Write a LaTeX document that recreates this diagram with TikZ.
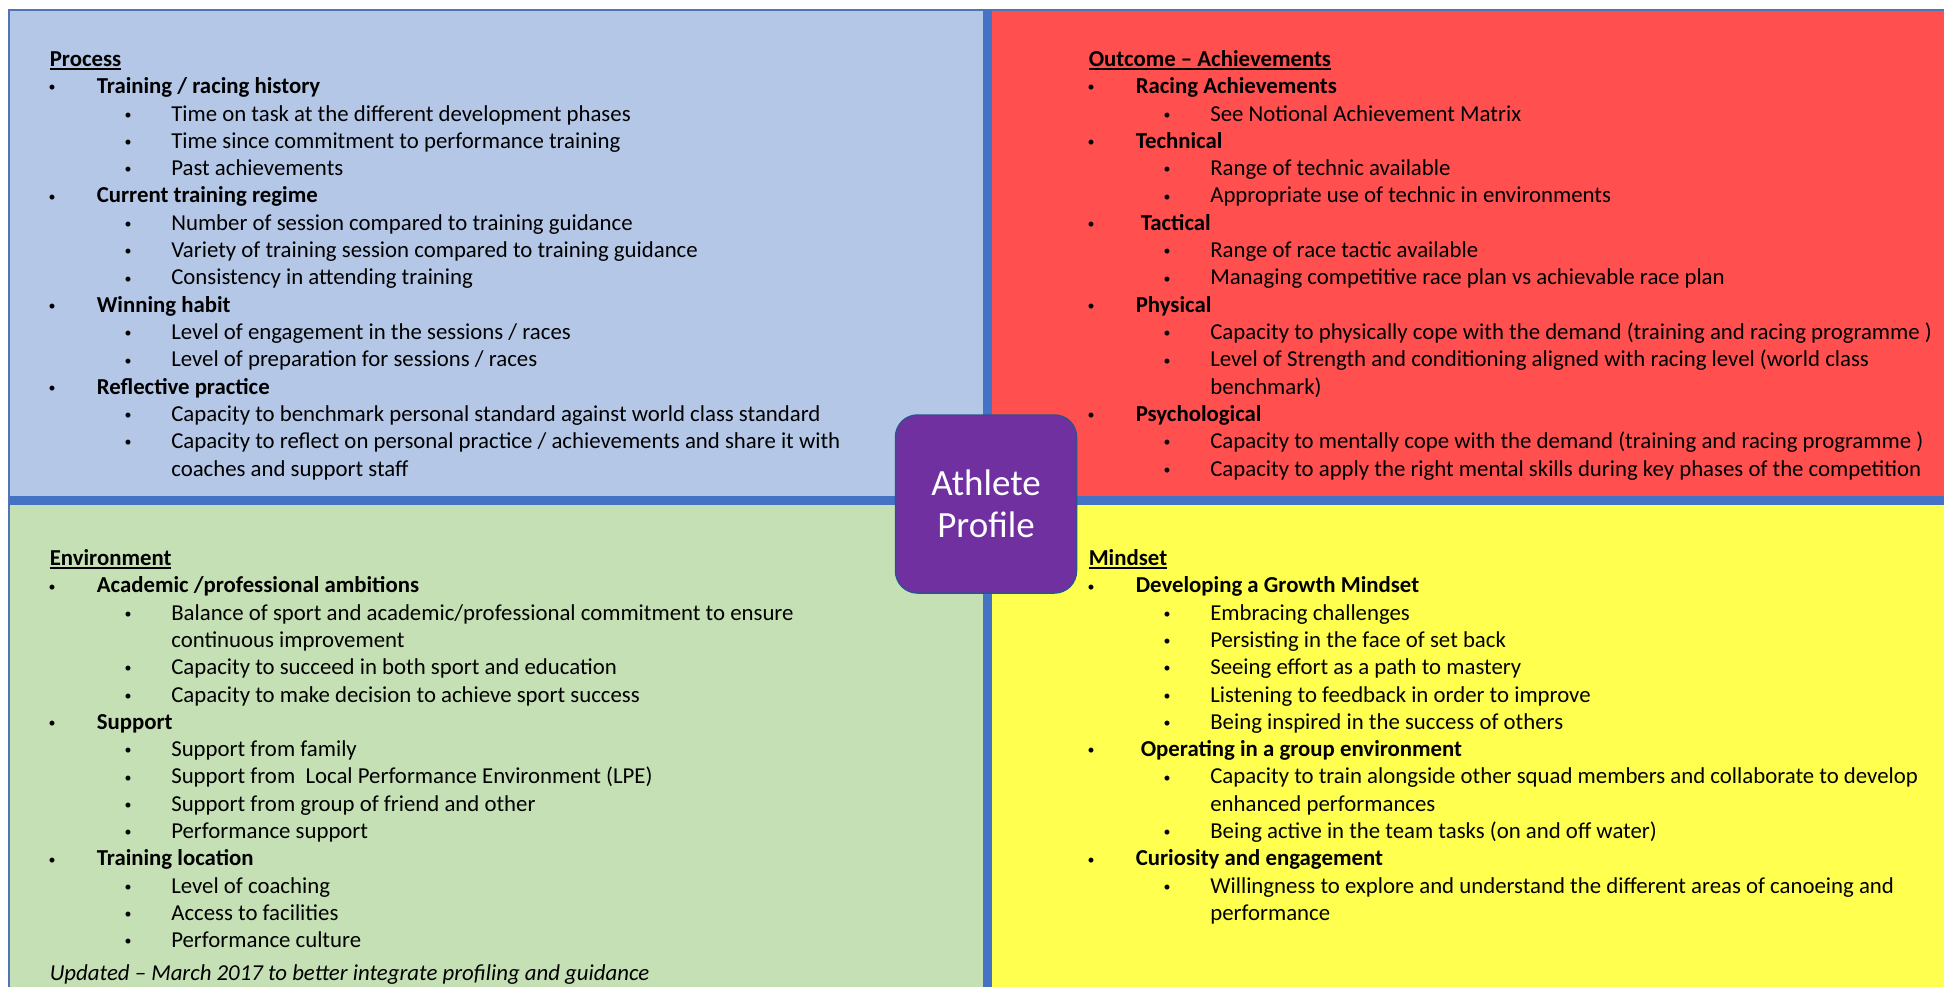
\documentclass[tikz,border=0pt]{standalone}
\usepackage{fontspec}
\setmainfont{Carlito}
\definecolor{pblue}{HTML}{B4C7E7}
\definecolor{pred}{HTML}{FF4F4F}
\definecolor{pgreen}{HTML}{C5E0B4}
\definecolor{pyellow}{HTML}{FFFF50}
\definecolor{divblue}{HTML}{4472C4}
\definecolor{ppurple}{HTML}{7030A0}
\definecolor{pborder}{HTML}{2F528F}
\newcommand\ulx[1]{\setbox0\hbox{#1}\rlap{\rule[-3.2pt]{\wd0}{1.6pt}}\box0}
\newcommand\smallbul{\raisebox{1.8pt}{\fontsize{14}{14}\selectfont\textbullet}}
\tikzset{
  txt/.style={inner sep=0pt, anchor=base west, text=black, font=\fontsize{22.8}{27.3}\selectfont},
  hd/.style={txt, font=\fontsize{22.8}{27.3}\selectfont\bfseries},
  bt/.style={txt, font=\fontsize{22.8}{27.3}\selectfont\bfseries},
  bl/.style={txt, anchor=base},
  divider/.style={draw=divblue, line width=9pt},
  outline/.style={draw=divblue!80!gray, line width=1.8pt},
  centrebox/.style={draw=pborder, line width=1.5pt, fill=ppurple, rounded corners=22pt,
    minimum width=181pt, minimum height=178pt, inner sep=0pt, text=white, align=center,
    font=\fontsize{37}{42}\selectfont}
}
\newcommand\HD[3]{\node[hd] (#1) at ({\bx},{\by+27.3*#2}) {\ulx{#3}};}
\newcommand\IA[3]{\node[bl] (#1d) at ({\bx+2.5},{\by+27.3*#2}) {\smallbul};
  \node[bt] (#1) at ({\bx+47},{\by+27.3*#2}) {#3};}
\newcommand\IB[3]{\node[bl] (#1d) at ({\bx+78.5},{\by+27.3*#2}) {\smallbul};
  \node[txt] (#1) at ({\bx+121.5},{\by+27.3*#2}) {#3};}
\newcommand\IC[3]{\node[txt] (#1) at ({\bx+121.5},{\by+27.3*#2}) {#3};}
\begin{document}
\begin{tikzpicture}[x=1pt,y=-1pt]
\useasboundingbox (0,0) rectangle (1944,987);
\fill[white] (0,0) rectangle (1944,987);
% panels
\fill[pblue] (9,10) rectangle (987,500);
\fill[pred] (987,10) rectangle (1944,500);
\fill[pgreen] (9,500) rectangle (987,987);
\fill[pyellow] (987,500) rectangle (1944,987);
\draw[outline] (9,987) -- (9,10) -- (1944,10);
\draw[divider] (987,10) -- (987,987);
\draw[divider] (9,500) -- (1944,500);
% centre
\node[centrebox] (centre) at (986,504) {Athlete\\Profile};

% Process (top left)
\def\bx{49.6}\def\by{66.5}
\HD{pr}{0}{Process}
\IA{pr1}{1}{Training / racing history}
\IB{pr1a}{2}{Time on task at the different development phases}
\IB{pr1b}{3}{Time since commitment to performance training}
\IB{pr1c}{4}{Past achievements}
\IA{pr2}{5}{Current training regime}
\IB{pr2a}{6}{Number of session compared to training guidance}
\IB{pr2b}{7}{Variety of training session compared to training guidance}
\IB{pr2c}{8}{Consistency in attending training}
\IA{pr3}{9}{Winning habit}
\IB{pr3a}{10}{Level of engagement in the sessions / races}
\IB{pr3b}{11}{Level of preparation for sessions / races}
\IA{pr4}{12}{Reflective practice}
\IB{pr4a}{13}{Capacity to benchmark personal standard against world class standard}
\IB{pr4b}{14}{Capacity to reflect on personal practice / achievements and share it with}
\IC{pr4c}{15}{coaches and support staff}

% Outcome (top right)
\def\bx{1088.6}\def\by{66.5}
\HD{oc}{0}{Outcome – Achievements}
\IA{oc1}{1}{Racing Achievements}
\IB{oc1a}{2}{See Notional Achievement Matrix}
\IA{oc2}{3}{Technical}
\IB{oc2a}{4}{Range of technic available}
\IB{oc2b}{5}{Appropriate use of technic in environments}
\IA{oc3}{6}{\hspace*{5pt}Tactical}
\IB{oc3a}{7}{Range of race tactic available}
\IB{oc3b}{8}{Managing competitive race plan vs achievable race plan}
\IA{oc4}{9}{Physical}
\IB{oc4a}{10}{Capacity to physically cope with the demand (training and racing programme )}
\IB{oc4b}{11}{Level of Strength and conditioning aligned with racing level (world class}
\IC{oc4c}{12}{benchmark)}
\IA{oc5}{13}{Psychological}
\IB{oc5a}{14}{Capacity to mentally cope with the demand (training and racing programme )}
\IB{oc5b}{15}{Capacity to apply the right mental skills during key phases of the competition}

% Environment (bottom left)
\def\bx{49.6}\def\by{565.5}
\HD{en}{0}{Environment}
\IA{en1}{1}{Academic /professional ambitions}
\IB{en1a}{2}{Balance of sport and academic/professional commitment to ensure}
\IC{en1b}{3}{continuous improvement}
\IB{en1c}{4}{Capacity to succeed in both sport and education}
\IB{en1d}{5}{Capacity to make decision to achieve sport success}
\IA{en2}{6}{Support}
\IB{en2a}{7}{Support from family}
\IB{en2b}{8}{Support from\ \ Local Performance Environment (LPE)}
\IB{en2c}{9}{Support from group of friend and other}
\IB{en2d}{10}{Performance support}
\IA{en3}{11}{Training location}
\IB{en3a}{12}{Level of coaching}
\IB{en3b}{13}{Access to facilities}
\IB{en3c}{14}{Performance culture}
\node[txt, font=\fontsize{22.8}{27.3}\selectfont\itshape] (upd) at (49.6,980.5) {Updated – March 2017 to better integrate profiling and guidance};

% Mindset (bottom right)
\def\bx{1088.6}\def\by{565.5}
\HD{ms}{0}{Mindset}
\IA{ms1}{1}{Developing a Growth Mindset}
\IB{ms1a}{2}{Embracing challenges}
\IB{ms1b}{3}{Persisting in the face of set back}
\IB{ms1c}{4}{Seeing effort as a path to mastery}
\IB{ms1d}{5}{Listening to feedback in order to improve}
\IB{ms1e}{6}{Being inspired in the success of others}
\IA{ms2}{7}{\hspace*{5pt}Operating in a group environment}
\IB{ms2a}{8}{Capacity to train alongside other squad members and collaborate to develop}
\IC{ms2b}{9}{enhanced performances}
\IB{ms2c}{10}{Being active in the team tasks (on and off water)}
\IA{ms3}{11}{Curiosity and engagement}
\IB{ms3a}{12}{Willingness to explore and understand the different areas of canoeing and}
\IC{ms3b}{13}{performance}
\end{tikzpicture}
\end{document}
